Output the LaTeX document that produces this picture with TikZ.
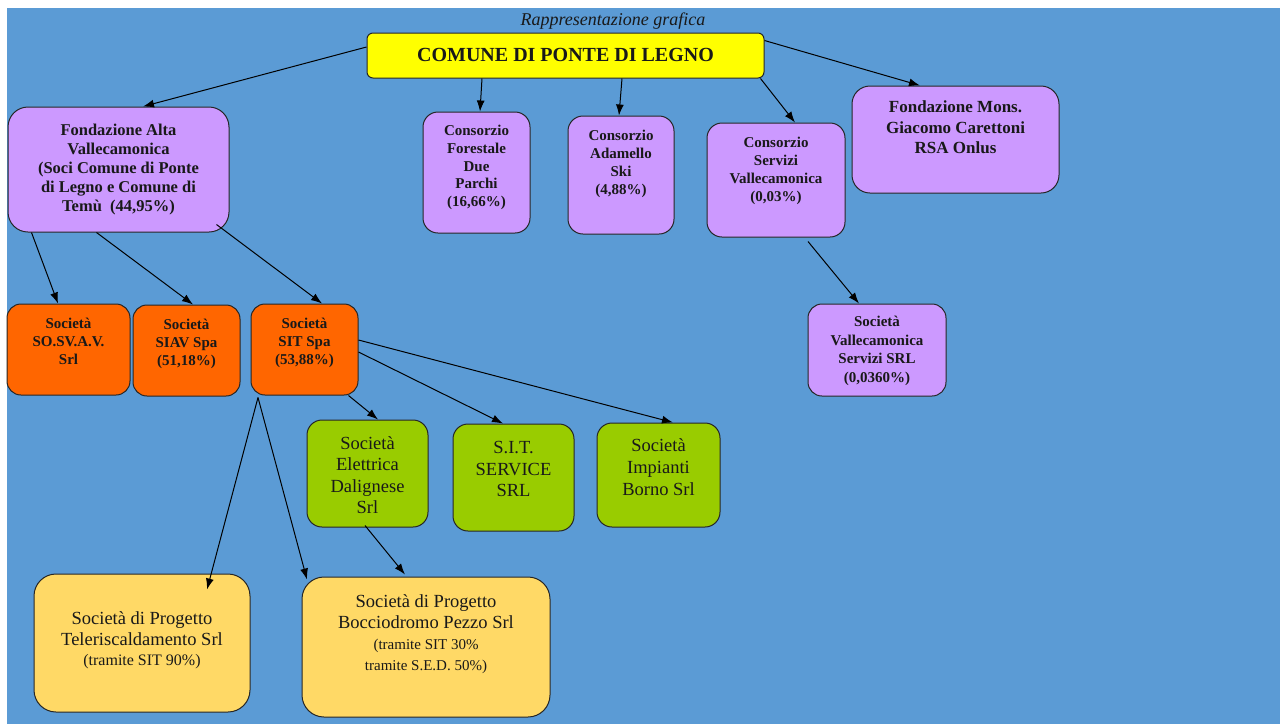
\documentclass[tikz,border=0pt]{standalone}
\usepackage{fontspec}
\setmainfont{Liberation Serif}
\usetikzlibrary{arrows.meta,calc}
\definecolor{bgblue}{RGB}{91,155,213}
\definecolor{lilac}{RGB}{204,153,255}
\definecolor{orng}{RGB}{255,102,0}
\definecolor{lgreen}{RGB}{153,204,0}
\definecolor{gold}{RGB}{255,217,102}
\definecolor{yell}{RGB}{255,255,0}
\newcommand\fsz[2]{\fontsize{#1}{#2}\selectfont}
\tikzset{
  box/.style={draw=black!85, line width=1pt, inner sep=0pt},
  txt/.style={align=center, inner sep=0pt, text=black!90},
  arr/.style={-{Latex[length=11pt,width=8pt]}, line width=1pt, draw=black},
}
\begin{document}
\begin{tikzpicture}[x=1pt,y=-1pt]
\useasboundingbox (0,0) rectangle (1280,724);
\fill[white] (0,0) rectangle (1280,724);
\fill[bgblue] (7,8) rectangle (1280,724);

\node[txt, font=\fsz{18}{20}\itshape] (title) at (613,21) {Rappresentazione grafica};

% boxes
\node[box, fill=yell, rounded corners=6pt, minimum width=397pt, minimum height=45pt] (comune) at (565.5,55.5) {};
\node[box, fill=lilac, rounded corners=20pt, minimum width=221pt, minimum height=125pt] (fond) at (118.5,169.5) {};
\node[box, fill=lilac, rounded corners=15pt, minimum width=107pt, minimum height=121pt] (forest) at (476.5,172.5) {};
\node[box, fill=lilac, rounded corners=15pt, minimum width=106pt, minimum height=118pt] (adam) at (621,175) {};
\node[box, fill=lilac, rounded corners=15pt, minimum width=138pt, minimum height=114pt] (serv) at (776,180) {};
\node[box, fill=lilac, rounded corners=18pt, minimum width=207pt, minimum height=107pt] (mons) at (955.5,139.5) {};
\node[box, fill=orng, rounded corners=14pt, minimum width=123pt, minimum height=91pt] (sosv) at (68.5,349.5) {};
\node[box, fill=orng, rounded corners=14pt, minimum width=107pt, minimum height=91pt] (siav) at (186.5,350.5) {};
\node[box, fill=orng, rounded corners=14pt, minimum width=107pt, minimum height=91pt] (sit) at (304.5,349.5) {};
\node[box, fill=lilac, rounded corners=14pt, minimum width=138pt, minimum height=92pt] (vsrl) at (877,350) {};
\node[box, fill=lgreen, rounded corners=15pt, minimum width=121pt, minimum height=107pt] (elet) at (367.5,473.5) {};
\node[box, fill=lgreen, rounded corners=15pt, minimum width=121pt, minimum height=107pt] (sitserv) at (513.5,477.5) {};
\node[box, fill=lgreen, rounded corners=15pt, minimum width=123pt, minimum height=104pt] (borno) at (658.5,475) {};
\node[box, fill=gold, rounded corners=22pt, minimum width=216pt, minimum height=138pt] (tele) at (142,643) {};
\node[box, fill=gold, rounded corners=22pt, minimum width=248pt, minimum height=140pt] (bocc) at (426,647) {};

% texts
\node[txt, font=\fsz{20}{22}\bfseries] (comune-t) at (565.5,55) {COMUNE DI PONTE DI LEGNO};
\node[txt, font=\fsz{16.5}{19.2}\bfseries] (fond-t) at (118.5,169.5) {Fondazione Alta\\Vallecamonica\\(Soci Comune di Ponte\\di Legno e Comune di\\Temù~~(44,95\%)};
\node[txt, font=\fsz{15}{17.6}\bfseries] (forest-t) at (476.5,167.5) {Consorzio\\Forestale\\Due\\Parchi\\(16,66\%)};
\node[txt, font=\fsz{15}{18}\bfseries] (adam-t) at (621,163.5) {Consorzio\\Adamello\\Ski\\(4,88\%)};
\node[txt, font=\fsz{15}{18}\bfseries] (serv-t) at (776,170.5) {Consorzio\\Servizi\\Vallecamonica\\(0,03\%)};
\node[txt, font=\fsz{17}{20.5}\bfseries] (mons-t) at (955.5,127.5) {Fondazione Mons.\\Giacomo Carettoni\\RSA Onlus};
\node[txt, font=\fsz{15}{18}\bfseries] (sosv-t) at (68.5,341.5) {Società\\SO.SV.A.V.\\Srl};
\node[txt, font=\fsz{15}{18}\bfseries] (siav-t) at (186.5,343.5) {Società\\SIAV Spa\\(51,18\%)};
\node[txt, font=\fsz{15}{18}\bfseries] (sit-t) at (304.5,343) {Società\\SIT Spa\\(53,88\%)};
\node[txt, font=\fsz{15}{18.5}\bfseries] (vsrl-t) at (877,351) {Società\\Vallecamonica\\Servizi SRL\\(0,0360\%)};
\node[txt, font=\fsz{18.5}{21.5}] (elet-t) at (367.5,475) {Società\\Elettrica\\Dalignese\\Srl};
\node[txt, font=\fsz{18.5}{21.5}] (sitserv-t) at (513.5,469) {S.I.T.\\SERVICE\\SRL};
\node[txt, font=\fsz{18.5}{22}] (borno-t) at (658.5,467) {Società\\Impianti\\Borno Srl};
\node[txt, font=\fsz{18.5}{20.5}] (tele-t) at (142,640.5) {Società di Progetto\\Teleriscaldamento Srl\\{\fsz{16}{20.5}(tramite SIT 90\%)}};
\node[txt, font=\fsz{18.5}{21}] (bocc-t) at (426,634) {Società di Progetto\\Bocciodromo Pezzo Srl\\{\fsz{15}{21.5}(tramite SIT 30\%}\\{\fsz{15}{19}tramite S.E.D. 50\%)}};

% connectors
\draw[arr] ($(comune.west)+(0,-8.5)$) -- ($(fond.north)+(24.5,0)$);
\draw[arr] ($(comune.south)+(-83.5,0)$) -- ($(forest.north)+(3.5,0)$);
\draw[arr] ($(comune.south)+(56.5,0)$) -- ($(adam.north)+(-2,0)$);
\draw[arr] ($(comune.south east)+(-4,0)$) -- ($(serv.north)+(19,0)$);
\draw[arr] ($(comune.north east)+(0,8)$) -- ($(mons.north)+(-35.5,0)$);
\draw[arr] ($(fond.south west)+(24,0)$) -- ($(sosv.north)+(-10.5,0)$);
\draw[arr] ($(fond.south west)+(89,0)$) -- ($(siav.north)+(6.5,0)$);
\draw[arr] ($(fond.south east)+(-13,-8)$) -- ($(sit.north)+(17.5,0)$);
\draw[arr] ($(serv.south)+(32,4)$) -- ($(vsrl.north)+(-18,0)$);
\draw[arr] ($(sit.south east)+(-10,0)$) -- ($(elet.north)+(10.5,0)$);
\draw[arr] ($(sit.east)+(0,2.5)$) -- ($(sitserv.north)+(-10.5,0)$);
\draw[arr] ($(sit.east)+(0,-9.5)$) -- ($(borno.north)+(14.5,0)$);
\draw[arr] ($(sit.south)+(-46.5,2)$) -- ($(tele.north)+(65,16)$);
\draw[arr] ($(sit.south)+(-46.5,2)$) -- ($(bocc.north)+(-119,3)$);
\draw[arr] ($(elet.south)+(-2.5,-2)$) -- ($(bocc.north)+(-21,-2)$);
\end{tikzpicture}
\end{document}
